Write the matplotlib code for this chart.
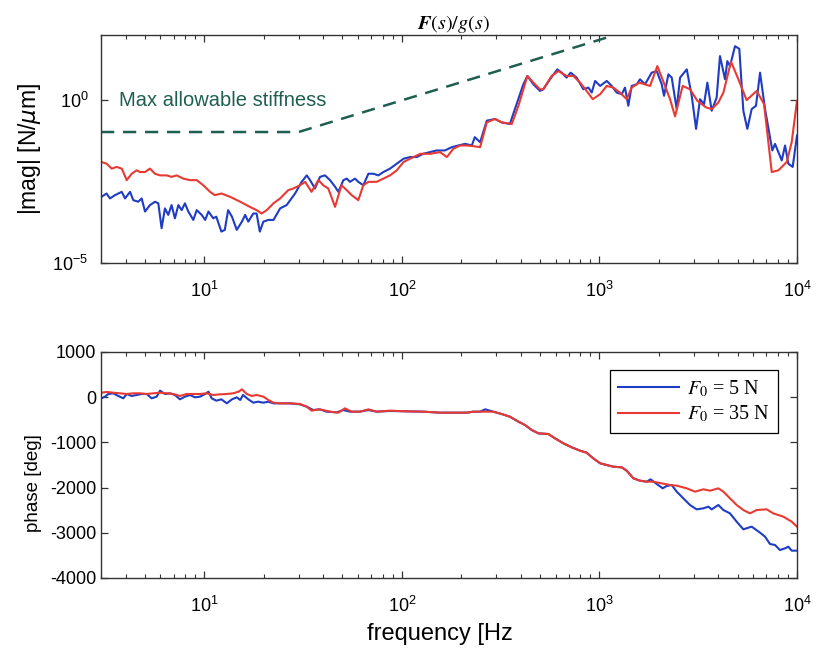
import matplotlib
matplotlib.use('Agg')
import matplotlib.pyplot as plt
from matplotlib.ticker import LogLocator, NullLocator, FixedLocator

plt.rcParams['font.family'] = ['Liberation Sans', 'DejaVu Sans']
plt.rcParams['axes.unicode_minus'] = False

# magnitude, F0 = 5 N (blue)
mag_f_5N = [3.02, 3.2, 3.33, 3.53, 3.82, 3.97, 4.21, 4.37, 4.63, 4.82, 5.01, 5.31, 5.63, 5.85,
            6.08, 6.32, 6.57, 6.83, 7.1, 7.39, 7.68, 7.98, 8.3, 8.8, 9.15, 9.7, 10.1, 10.5, 11.1,
            11.5, 12.2, 12.7, 13.2, 13.8, 14.6, 15.5, 16.1, 16.7, 17.7, 18.4, 19.1, 19.9, 21.1,
            22.4, 24.2, 26.1, 28.8, 31.1, 33.0, 34.3, 36.3, 38.5, 40.8, 43.3, 45.9, 47.7, 50.6,
            52.6, 54.6, 57.9, 60.2, 63.8, 67.7, 71.8, 76.0, 80.6, 87.1, 94.2, 102, 110, 119, 128,
            139, 150,
            165, 179, 193, 209, 226, 234, 249, 269, 296, 320, 352, 381, 412, 432, 463, 500, 520,
            562, 612, 644, 682, 715, 767, 829, 879, 914, 951, 1008, 1089, 1154, 1222, 1297, 1347,
            1400, 1456, 1545, 1604, 1702, 1838, 1950, 2066, 2123, 2234, 2322, 2461, 2559, 2767,
            2932, 3084, 3230, 3384, 3518, 3700, 3920, 4075, 4322, 4440, 4580, 4856, 5105, 5350,
            5605, 5897, 6200, 6500, 6890, 7500, 7740, 8050, 8370, 8700, 9040, 9510, 10000]
mag_5N = [1.08e-3, 1.36e-3, 9.6e-4, 1.21e-3, 1.53e-3, 9.6e-4, 1.53e-3, 8.5e-4, 7.6e-4, 9.6e-4,
          3.8e-4, 6.0e-4, 7.6e-4, 6.8e-4, 1.17e-4, 4.75e-4, 3.0e-4, 6.0e-4, 2.35e-4, 6.0e-4,
          4.2e-4, 6.8e-4, 3.8e-4, 2.1e-4, 4.2e-4, 3.0e-4, 2.1e-4, 3.8e-4, 2.35e-4, 2.65e-4,
          9.2e-5, 1.04e-4, 4.2e-4, 2.65e-4, 1.04e-4, 1.86e-4, 3.0e-4, 1.86e-4, 3.3e-4, 3.3e-4,
          9.2e-5, 1.86e-4, 2.1e-4, 2.1e-4, 4.75e-4, 6.0e-4, 1.36e-3, 3.1e-3, 4.9e-3, 3.5e-3,
          1.94e-3, 4.4e-3, 4.9e-3, 3.5e-3, 2.2e-3, 1.53e-3, 3.5e-3, 3.9e-3, 3.1e-3, 3.9e-3,
          3.1e-3, 2.44e-3, 5.5e-3, 5.5e-3, 4.9e-3, 6.2e-3, 7.9e-3, 1.12e-2, 1.59e-2, 1.79e-2,
          1.79e-2, 2.25e-2, 2.54e-2, 2.85e-2,
          2.85e-2, 3.6e-2, 4.05e-2, 4.55e-2, 4.05e-2, 7.3e-2, 5.1e-2, 0.234, 0.264, 0.208, 0.185,
          0.755, 3.07, 5.52, 3.07, 1.92, 2.16, 4.36, 8.81, 6.97, 4.91, 6.97, 4.91, 2.16, 2.43,
          1.71, 3.88, 2.73, 3.88, 2.73, 1.71, 1.52, 2.43, 0.672, 2.73, 3.07, 4.36, 3.07, 6.97,
          7.83, 3.07, 1.36, 6.21, 4.91, 0.532, 4.91, 8.81, 1.36, 0.131, 1.07, 0.755, 3.45, 0.473,
          1.20, 22.5, 4.36, 15.8, 11.1, 45.3, 37.6, 0.473, 0.131, 0.532, 0.672, 6.97, 0.532,
          2.85e-2, 4.55e-2, 2.54e-2, 1.41e-2, 4.05e-2, 1.12e-2, 8.9e-3, 8.2e-2]

# magnitude, F0 = 35 N (red)
mag_f_35N = [3.02, 3.2, 3.4, 3.6, 3.82, 4.05, 4.29, 4.55, 4.73, 5.01, 5.31, 5.63, 5.97, 6.45,
             6.83, 7.25, 7.83, 8.46, 9.15, 9.88, 10.7, 11.3, 12.2, 13.5, 15.2, 17.0, 18.4, 19.5,
             20.7, 22.4, 24.2, 26.6, 28.2, 30.5, 32.4, 34.9, 37.8, 40.0, 42.4, 45.9, 49.5, 52.6,
             55.7, 60.2, 63.8, 67.7, 74.5, 80.6, 87.1, 94.2, 102, 110, 124, 139,
             156, 169, 182, 197, 213, 230, 249, 269, 296, 320, 360, 389, 432, 463, 500, 520, 573,
             620, 682, 738, 798, 861, 925, 1008, 1089, 1175, 1270, 1373, 1456, 1592, 1803, 1964,
             2148, 2277, 2414, 2638, 2873, 3130, 3465, 3700, 4000, 4240, 4635, 5010, 5560, 6250,
             6810, 7450, 8050, 8870, 9400, 10000]
mag_35N = [1.26e-2, 1.12e-2, 7.9e-3, 8.9e-3, 7.9e-3, 3.5e-3, 5.5e-3, 7.0e-3, 6.2e-3, 6.2e-3,
           7.9e-3, 5.5e-3, 4.9e-3, 4.9e-3, 4.4e-3, 4.9e-3, 3.9e-3, 3.5e-3, 3.5e-3, 2.44e-3,
           1.53e-3, 1.21e-3, 1.36e-3, 1.08e-3, 7.6e-4, 5.3e-4, 4.2e-4, 3.3e-4, 4.2e-4, 6.8e-4,
           9.6e-4, 1.72e-3, 1.94e-3, 2.44e-3, 3.1e-3, 1.53e-3, 3.5e-3, 2.44e-3, 1.94e-3, 5.3e-4,
           2.44e-3, 1.72e-3, 1.21e-3, 8.5e-4, 2.44e-3, 3.1e-3, 3.1e-3, 3.9e-3, 4.9e-3, 7.0e-3,
           1.26e-2, 1.59e-2, 2.25e-2, 2.25e-2,
           2.54e-2, 1.79e-2, 3.2e-2, 4.05e-2, 4.05e-2, 3.87e-2, 3.6e-2, 0.208, 0.264, 0.208,
           0.185, 0.672, 5.52, 3.45, 2.16, 2.16, 5.52, 7.83, 5.52, 5.52, 3.45, 1.92, 1.07, 1.52,
           2.73, 2.43, 1.71, 1.07, 2.43, 3.45, 2.73, 11.1, 2.73, 1.07, 0.318, 2.73, 2.16, 0.955,
           0.598, 0.532, 0.85, 1.71, 15.1, 4.91, 1.0, 1.92, 0.755, 6.2e-3, 7.0e-3, 1.26e-2,
           5.1e-2, 0.955]

# max allowable stiffness limit
stiff_f = [3, 30, 1100]
stiff_mag = [0.105, 0.105, 85]

# phase, F0 = 5 N (blue)
ph_f_5N = [3.02, 3.14, 3.27, 3.46, 3.67, 3.89, 4.05, 4.29, 4.55, 4.82, 5.11, 5.41, 5.74, 5.97,
           6.32, 6.70, 7.10, 7.53, 7.98, 8.46, 8.97, 9.51, 10.1, 10.5, 10.9, 11.5, 12.2, 13.0,
           13.8, 14.6, 15.2, 15.7, 16.7, 17.7, 18.7, 19.9, 21.1, 22.4, 23.7, 27.2, 30.5, 33.0,
           35.6, 38.5, 41.6, 46.8, 50.6, 54.6, 61.4, 67.7, 74.5, 87.1, 106, 128,
           156, 182, 213, 230, 249, 264, 290, 320, 352, 389, 420, 454, 491, 551, 596, 657, 724,
           798, 861, 931, 1008, 1089, 1175, 1297, 1373, 1486, 1604, 1734, 1816, 1910, 2090, 2189,
           2322, 2461, 2660, 2873, 3104, 3357, 3558, 3700, 4000, 4240, 4580, 4950, 5350, 5897,
           6500, 6890, 7300, 7740, 8200, 8700, 9040, 9400, 10000]
ph_5N = [-25, 12, 71, 86, 27, -25, 71, 27, 49, 71, 71, -25, 12, 145, 71, 86, 49, -47, 12, 49,
         -3, 12, 71, 122, -25, -77, -47, -136, -47, -3, -62, 49, -47, -121, -99, -121, -99, -136,
         -136, -136, -158, -210, -284, -269, -320, -335, -284, -320, -320, -284, -320, -305,
         -313, -320,
         -342, -342, -342, -320, -320, -268, -320, -372, -431, -541, -615, -726, -800, -814,
         -910, -1021, -1109, -1183, -1227, -1353, -1463, -1500, -1537, -1552, -1625, -1795,
         -1847, -1869, -1817, -1891, -2016, -1965, -1943, -2090, -2238, -2385, -2481, -2459,
         -2422, -2481, -2385, -2496, -2570, -2754, -2923, -2864, -2997, -3086, -3248, -3270,
         -3381, -3344, -3307, -3395, -3395]

# phase, F0 = 35 N (red)
ph_f_35N = [3.02, 3.20, 3.46, 3.74, 4.05, 4.37, 4.73, 5.11, 5.52, 5.97, 6.45, 6.97, 7.53, 8.14,
            8.80, 9.51, 10.3, 11.1, 12.0, 13.0, 14.0, 14.9, 15.5, 16.4, 17.4, 18.4, 19.9, 21.1,
            22.4, 24.2, 27.2, 30.5, 33.0, 34.9, 37.8, 40.0, 43.3, 47.7, 51.5, 55.7, 61.4, 67.7,
            74.5, 87.1, 106, 128,
            156, 182, 213, 230, 249, 290, 320, 352, 389, 420, 454, 491, 551, 596, 657, 724, 798,
            861, 931, 1008, 1089, 1175, 1297, 1373, 1486, 1604, 1734, 1874, 2066, 2277, 2461,
            2767, 3048, 3357, 3630, 4000, 4240, 4580, 4950, 5350, 5780, 6250, 7030, 7580, 8530,
            9400, 10000]
ph_35N = [100, 115, 100, 86, 71, 86, 86, 71, 86, 100, 86, 71, 27, 71, 71, 71, 86, 49, 63, 71,
          86, 122, 174, 71, 27, 49, 12, -62, -121, -136, -136, -150, -210, -298, -269, -284,
          -320, -342, -246, -320, -320, -269, -320, -298, -313, -320,
          -342, -342, -342, -320, -320, -320, -372, -431, -541, -615, -726, -800, -814, -910,
          -1021, -1109, -1183, -1227, -1353, -1463, -1500, -1537, -1552, -1625, -1795, -1847,
          -1869, -1869, -1906, -1943, -1957, -2016, -2090, -2038, -2068, -2016, -2090, -2238,
          -2385, -2496, -2570, -2496, -2481, -2570, -2643, -2754, -2864]

blue = '#1f3cc4'
red = '#e83a32'
teal = '#1f5f50'
frame = '#333333'

fig = plt.figure(figsize=(8.17, 6.52), dpi=100)
ax1 = fig.add_axes([101/817, 1 - 263/652, 696/817, 228/652])
ax2 = fig.add_axes([101/817, 1 - 578/652, 696/817, 226/652])

# top: magnitude
ax1.loglog(mag_f_5N, mag_5N, color=blue, lw=1.5)
ax1.loglog(mag_f_35N, mag_35N, color=red, lw=1.5)
ax1.loglog(stiff_f, stiff_mag, color=teal, lw=1.8, linestyle=(0, (5.3, 3.5)))
ax1.text(3.72, 1.0, 'Max allowable stiffness', color=teal, fontsize=14.5, va='center', ha='left')
ax1.set_xlim(3, 1e4)
ax1.set_ylim(1e-5, 1e2)
ax1.yaxis.set_major_locator(FixedLocator([1e-5, 1e0]))
ax1.yaxis.set_minor_locator(NullLocator())
ax1.set_ylabel(r'|mag| [N/$\mu$m]', fontsize=16.5)
ax1.yaxis.set_label_coords(-0.083, 0.5)
ax1.set_title(r'$\mathbfit{F}(s)/g(s)$', fontsize=14.5, math_fontfamily='stix', pad=4, x=0.507)

# bottom: phase
ax2.semilogx(ph_f_5N, ph_5N, color=blue, lw=1.5, label=r'$F_0$ = 5 N')
ax2.semilogx(ph_f_35N, ph_35N, color=red, lw=1.5, label=r'$F_0$ = 35 N')
ax2.set_xlim(3, 1e4)
ax2.set_ylim(-4000, 1000)
ax2.set_yticks([1000, 0, -1000, -2000, -3000, -4000])
ax2.set_ylabel('phase [deg]', fontsize=13.5)
ax2.yaxis.set_label_coords(-0.085, 0.42)
ax2.set_xlabel('frequency [Hz', fontsize=17, labelpad=8)
ax2.xaxis.set_label_coords(0.487, -0.2)
ax2.xaxis.label.set_va('top')

leg_font = {'family': 'Liberation Serif', 'size': 14.5, 'math_fontfamily': 'stix'}
leg = ax2.legend(loc='upper right', bbox_to_anchor=(0.9727, 0.92), borderaxespad=0,
                 prop=leg_font, fancybox=False, framealpha=1, edgecolor='black',
                 handlelength=3.05, handletextpad=0.4, borderpad=0.4, labelspacing=0.25)
leg.get_frame().set_linewidth(0.9)

for ax in (ax1, ax2):
    ax.xaxis.set_major_locator(LogLocator(base=10, numticks=10))
    ax.xaxis.set_minor_locator(LogLocator(base=10, subs=range(2, 10), numticks=10))
    ax.tick_params(which='both', direction='in', top=True, right=True, colors=frame,
                   labelcolor='black', labelsize=13)
    ax.tick_params(which='major', length=5, width=0.9)
    ax.tick_params(which='minor', length=3, width=0.8)
    ax.tick_params(axis='x', which='major', pad=13)
    for s in ax.spines.values():
        s.set_color(frame)
        s.set_linewidth(1.0)

ax1.tick_params(axis='y', which='major', pad=9)

fig.savefig('out.png', dpi=100)
